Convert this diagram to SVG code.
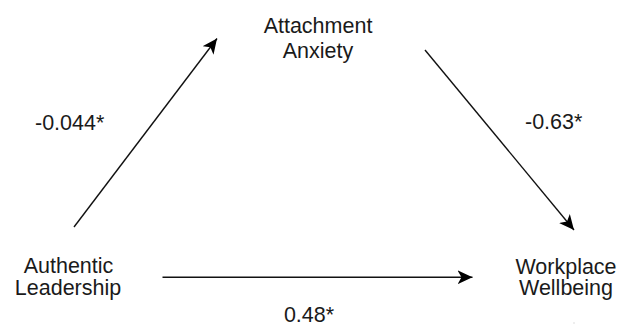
<svg xmlns="http://www.w3.org/2000/svg" width="619" height="325" viewBox="0 0 619 325">
<style>
text{font-family:"Liberation Sans",Arial,sans-serif;font-size:21.5px;fill:#1a1a1a}
.c{text-anchor:middle}
.e{stroke:#111;stroke-width:1.4;fill:none}
</style>
<defs>
<marker id="ah" markerUnits="userSpaceOnUse" markerWidth="16" markerHeight="16" viewBox="0 0 16 16" refX="15" refY="7" orient="auto">
<path d="M0,0 L15,7 L0,14 L4,7 Z" fill="#000"/>
</marker>
</defs>
<rect width="619" height="325" fill="#fff"/>
<g id="connectors">
<line class="e" x1="74" y1="227" x2="217" y2="38.5" marker-end="url(#ah)"/>
<line class="e" x1="425" y1="50" x2="574" y2="230" marker-end="url(#ah)"/>
<line class="e" x1="162.5" y1="277.3" x2="472.5" y2="277.3" marker-end="url(#ah)"/>
<text x="35" y="129.5">-0.044*</text>
<text x="525" y="128.5">-0.63*</text>
<text class="c" x="309" y="321.5">0.48*</text>
</g>
<g id="attachment-anxiety">
<text class="c" x="318" y="33">Attachment</text>
<text class="c" x="318" y="57.5">Anxiety</text>
</g>
<g id="authentic-leadership">
<text class="c" x="68.5" y="272.5">Authentic</text>
<text class="c" x="68" y="295">Leadership</text>
</g>
<g id="workplace-wellbeing">
<text class="c" x="566" y="273.5">Workplace</text>
<text class="c" x="566" y="295">Wellbeing</text>
</g>
<rect x="573.5" y="322.5" width="1" height="1" fill="#bbb"/>
</svg>
